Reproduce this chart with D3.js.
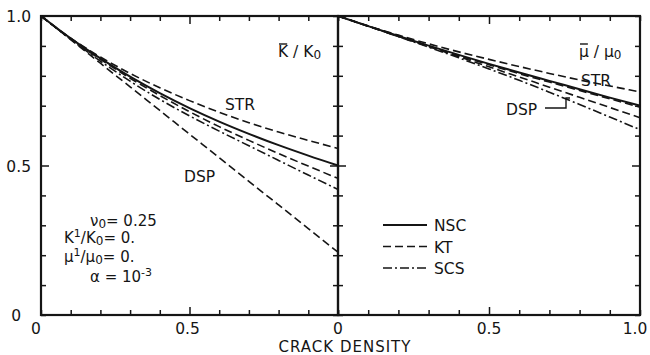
<!DOCTYPE html>
<html><head><meta charset="utf-8">
<script src="https://cdn.jsdelivr.net/npm/d3@7"></script>
<style>
body{margin:0;background:#fff}
text{font-family:"DejaVu Sans","Liberation Sans",sans-serif;fill:#151515}
</style>
</head><body><svg id="c" width="650" height="355"></svg>
<script>
// ---- data ----
const crackDensity = [0,0.1,0.2,0.3,0.4,0.5,0.6,0.7,0.8,0.9,1.0];
// left panel: K/K0
const kSTR = [1,0.926,0.863,0.808,0.760,0.717,0.678,0.643,0.612,0.584,0.557];
const kNSC = [1,0.925,0.858,0.797,0.742,0.692,0.647,0.606,0.568,0.533,0.500];
const kKT  = [1,0.924,0.855,0.792,0.734,0.680,0.630,0.584,0.540,0.498,0.457];
const kSCS = [1,0.922,0.849,0.782,0.721,0.666,0.615,0.566,0.517,0.468,0.420];
const kDSP = [1,0.921,0.842,0.763,0.684,0.605,0.526,0.447,0.368,0.289,0.210];
// right panel: mu/mu0
const mSTR = [1,0.967,0.936,0.907,0.880,0.855,0.831,0.808,0.786,0.766,0.746];
const mNSC = [1,0.966,0.933,0.901,0.870,0.840,0.811,0.783,0.755,0.727,0.700];
const mKT  = [1,0.966,0.932,0.899,0.867,0.837,0.807,0.779,0.751,0.723,0.695];
const mDSP = [1,0.966,0.932,0.898,0.864,0.830,0.796,0.762,0.728,0.694,0.660];
const mSCS = [1,0.966,0.931,0.896,0.860,0.823,0.785,0.745,0.704,0.662,0.620];

const tickValues = [0,0.1,0.2,0.3,0.4,0.5,0.6,0.7,0.8,0.9,1.0];
const xLabelsLeft = [[0,"0"],[0.5,"0.5"]];
const xLabelsRight = [[0,"0"],[0.5,"0.5"],[1,"1.0"]];
const yLabels = [[0,"0"],[0.5,"0.5"],[1,"1.0"]];
const legendNames = ["NSC","KT","SCS"];
const xTitle = "CRACK DENSITY";

// ---- layout ----
const svg = d3.select("#c");
const yTop = 16, yBot = 315;
const y = d3.scaleLinear().domain([0,1]).range([yBot, yTop]);
const xL = d3.scaleLinear().domain([0,1]).range([41, 338]);
const xR = d3.scaleLinear().domain([0,1]).range([338, 640]);
const ink = "#151515";
const dashes = {solid:null, dash:"8,4", dashdot:"9,3,2,3"};

function panel(x){
  const g = svg.append("g");
  const len = d => Math.abs(d-0.5)<1e-6 ? 8 : 5;
  const mk = (axis, tr, attr, sign) => {
    const a = g.append("g").attr("transform", tr)
      .call(axis.tickValues(tickValues).tickFormat("").tickSizeOuter(0));
    a.select(".domain").remove();
    a.selectAll(".tick line").attr(attr, d => sign*len(d)).attr("stroke", ink).attr("stroke-width",1.5);
  };
  mk(d3.axisBottom(x), `translate(0,${yBot})`, "y2", -1);
  mk(d3.axisTop(x), `translate(0,${yTop})`, "y2", 1);
  mk(d3.axisLeft(y), `translate(${x(0)},0)`, "x2", 1);
  mk(d3.axisRight(y), `translate(${x(1)},0)`, "x2", -1);
  g.append("rect").attr("x",x(0)).attr("y",yTop).attr("width",x(1)-x(0)).attr("height",yBot-yTop)
    .attr("fill","none").attr("stroke",ink).attr("stroke-width",2.2);
  return g;
}
panel(xL); panel(xR);

function curve(x, vals, style, w){
  const line = d3.line().x((d,i)=>x(crackDensity[i])).y(d=>y(d)).curve(d3.curveMonotoneX);
  svg.append("path").attr("d", line(vals)).attr("fill","none").attr("stroke",ink)
    .attr("stroke-width", w||1.6).attr("stroke-dasharray", dashes[style]);
}
curve(xL,kSTR,"dash"); curve(xL,kNSC,"solid",2); curve(xL,kKT,"dash");
curve(xL,kSCS,"dashdot"); curve(xL,kDSP,"dash");
curve(xR,mSTR,"dash"); curve(xR,mNSC,"solid",2); curve(xR,mKT,"dash");
curve(xR,mDSP,"dash"); curve(xR,mSCS,"dashdot");

// tick labels
const fs = 15.5;
yLabels.forEach(([v,t])=>{
  svg.append("text").attr("x", t==="0"?21:31).attr("y", y(v)+6).attr("text-anchor","end")
    .attr("font-size",fs).text(t);
});
xLabelsLeft.forEach(([v,t])=>{
  svg.append("text").attr("x", xL(v)-(v===0?5:2)).attr("y",334).attr("text-anchor","middle").attr("font-size",fs).text(t);
});
xLabelsRight.forEach(([v,t])=>{
  svg.append("text").attr("x", xR(v)-(v===1?5:0)).attr("y",334).attr("text-anchor","middle").attr("font-size",fs).text(t);
});
svg.append("text").attr("x",345).attr("y",352).attr("text-anchor","middle").attr("font-size",15)
  .attr("letter-spacing",1).text(xTitle);

// panel titles
function overTitle(xp, yp, main){
  const t = svg.append("text").attr("x",xp).attr("y",yp).attr("font-size",15.5);
  t.append("tspan").text(main);
  t.append("tspan").text(" / "+main);
  t.append("tspan").attr("font-size",12).attr("dy",2).text("0");
  const e = t.node().getExtentOfChar(0);
  svg.append("line").attr("x1",e.x+1).attr("x2",e.x+e.width-1).attr("y1",e.y+1).attr("y2",e.y+1)
    .attr("stroke",ink).attr("stroke-width",1.4);
}
overTitle(278, 57, "K");
overTitle(579, 57, "μ");

const lf = 15.5;
svg.append("text").attr("x",225).attr("y",110).attr("font-size",lf).text("STR");
svg.append("text").attr("x",184).attr("y",182).attr("font-size",lf).text("DSP");
svg.append("text").attr("x",581).attr("y",86).attr("font-size",lf).text("STR");
svg.append("text").attr("x",506).attr("y",115).attr("font-size",lf).text("DSP");
svg.append("path").attr("d","M545,108H566V98H570").attr("fill","none").attr("stroke",ink).attr("stroke-width",1.4);

// parameter block
function param(xp, yp, parts){
  const t = svg.append("text").attr("x",xp).attr("y",yp).attr("font-size",15);
  parts.forEach(([s,k])=>{
    const ts = t.append("tspan").text(s);
    if(k==="sub") ts.attr("font-size",12).attr("dy",2);
    if(k==="sup") ts.attr("font-size",11).attr("dy",-6);
    if(k==="back") ts.attr("dy",-2);
    if(k==="down") ts.attr("dy",6);
  });
}
param(90,226,[["ν"],["0","sub"],["= 0.25","back"]]);
param(64,243,[["K"],["1","sup"],["/K","down"],["0","sub"],["= 0.","back"]]);
param(64,262,[["μ"],["1","sup"],["/μ","down"],["0","sub"],["= 0.","back"]]);
param(90,282,[["α  = 10"],["-3","sup"]]);

// legend
const legStyles = ["solid","dash","dashdot"];
legendNames.forEach((n,i)=>{
  const ly = 225 + i*21.5;
  svg.append("line").attr("x1",383).attr("x2",427).attr("y1",ly).attr("y2",ly)
    .attr("stroke",ink).attr("stroke-width",i===0?2.1:1.7).attr("stroke-dasharray",dashes[legStyles[i]]);
  svg.append("text").attr("x",434).attr("y",ly+6).attr("font-size",15.5).text(n);
});
</script>
</body></html>
